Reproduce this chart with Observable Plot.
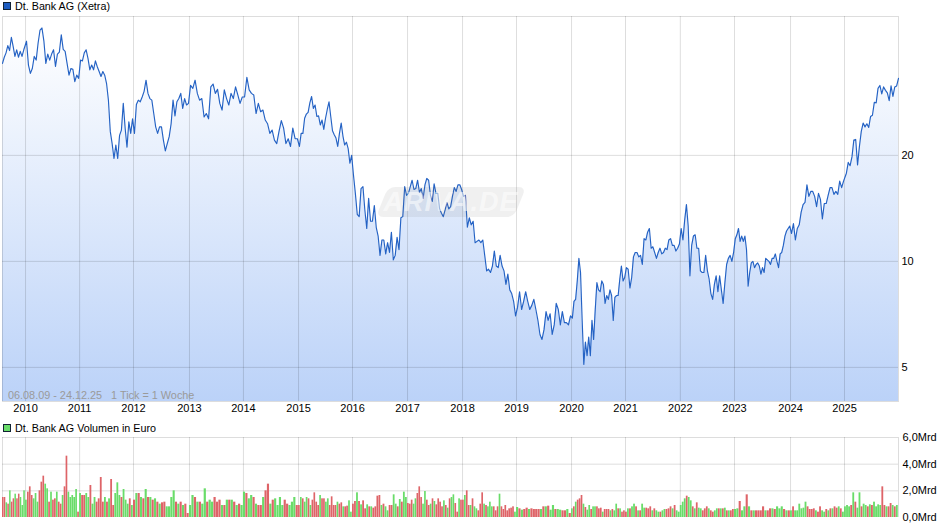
<!DOCTYPE html>
<html lang="de">
<head>
<meta charset="utf-8">
<script src="https://cdn.jsdelivr.net/npm/d3@7"></script>
<script src="https://cdn.jsdelivr.net/npm/@observablehq/plot@0.6"></script>
<style>
  html,body{margin:0;padding:0;background:#fff;}
  #page{position:relative;width:940px;height:526px;overflow:hidden;font:11px "Liberation Sans",Arial,sans-serif;color:#000;}
  .legend{height:14px;line-height:12px;position:relative;padding-left:15px;white-space:pre;font-size:10.75px;box-sizing:border-box;}
  .legend i{position:absolute;left:3px;top:2px;width:6px;height:6px;border:1px solid #123;display:block;}
  .legend.second{padding-top:1px;}
  .legend.second i{top:3px;}
  svg{display:block;}
  #range{position:absolute;left:8px;top:389px;color:#9a9a9a;white-space:pre;font-size:10.85px;}
  #mark{position:absolute;left:382px;top:187px;width:138px;height:30px;background:rgba(110,110,110,.10);border-radius:7px;transform:skewX(-22deg);pointer-events:none;}
  #markText{position:absolute;left:382px;top:187px;width:138px;height:30px;text-align:center;font:italic bold 27px/31px "Liberation Sans",Arial,sans-serif;letter-spacing:1px;color:rgba(255,255,255,.55);pointer-events:none;}
</style>
</head>
<body>
<div id="page"></div>
<script>
const titlePrice = "Dt. Bank AG (Xetra)";
const titleVolume = "Dt. Bank AG Volumen in Euro";
const rangeNote = "06.08.09 - 24.12.25   1 Tick = 1 Woche";
const watermark = "ARIVA.DE";

const totalWeeks = 855;
const yearLabels = ["2010","2011","2012","2013","2014","2015","2016","2017","2018","2019","2020","2021","2022","2023","2024","2025"];
const yearWeeks = [22,73.6,125,178.4,229.9,282.5,334,386.5,439,490.5,543,594.5,646.8,698.5,752,803.5];
const priceTicks = [5,10,20];
const volumeTicks = [0,2,4,6];

const close2009 = [36.5,38,39.1,41,39.7,43.3,40.8,38.2,39.9,38,39.5,38.2,39.9];
const close2010 = [42.2,36.1,34.2,35.3,38.2,37.3,41.7,45.4,46,42.2,36.5,38.8,37.3,38.8,39.9,35.8,38.8,39.3,44,40,39.5,36.5,33.8,35.3,35.1,32.4,33.8,33.1];
const close2011 = [37.3,37.1,39.1,39.9,37.7,35,36.1,35,37.1,35.7,34.6,33.5,34.6,33.8,32,28.7,23.4,21.6,19.6,21.4,19.6,22.8,23.6,28.1,23.9,21.1,24.9,23.1,25.4];
const close2012 = [23.1,27.9,28.7,28.4,29.3,30.4,32.7,30,29,28.7,26.3,24.1,23.1,24.1,24.1,22.1,20.6,21.6,22.6,24.6,28.7,25.9,28.4,29,30,27.2,29,27.8,28.1];
const close2013 = [31.6,31,32.7,30,28.7,29,25.7,26.3,25.4,31.3,31.9,30,30.8,28.1,26.9,30.7,29,27.8,30,29,31.3,29.7,28.1,29.3];
const close2014 = [29.3,33.3,30.7,30,29.7,26.3,28.1,26.6,26.9,25.2,24.6,23.1,23.6,22.1,21.6,23.4,25.1,23.9,21.6,22.3,21.2,23.9,22.3,22.3];
const close2015 = [21.2,23.1,23.1,25.5,26.2,26.5,28.2,29.4,27.2,27.8,25.8,25.9,24.4,25.2,23.7,25.5,27,28.4,25.8,23.5,22.9,22.4,21.2,23.1,24.7,22.7,21.4,21.8,20.9,19,20];
const close2016 = [17.6,15.6,13.6,13.4,16.1,16.3,14,12.4,15.1,13,13,14.4,12.5,11.8,10.4,11.5,11.5,10.5,11.3,10.6,12.1,10.1,10.4,11.7,10.8,13.3,13.4,16.3,15.4];
const close2017 = [15.6,16.3,17,16,16.1,17,15.7,16.1,15.1,16.5,17.2,17,15.4,14.8,16.6,15.6,15.6,14.1,13.7,13.4,14,14.7,14.1,14.3,15.3,16.2,15.8,16.5,16.5,16];
const close2018 = [15.3,15.4,12.5,13.3,12.7,13,11.3,11.4,11.5,11.3,11.5,10.4,9.4,9.5,9.3,9.7,10.7,9.7,9.6,10.4,9.7,9.4,8.6,9.2,8.3,8.1,7.7,7];
const close2019 = [7.4,8.2,7.3,7.7,8.2,7.7,7.3,7.5,7.8,7.3,6.8,6.2,6,6.4,7.2,6.8,7.1,6.2,6.6,7.6,7.3,6.6,7.2,6.7,6.7,6.6,7];
const close2020 = [6.9,7.7,7.8,8.8,10.2,9.3,6.8,5.1,5.9,5.4,6.1,5.4,6.8,6,7.3,8.7,8.3,8.2,8.8,8.6,7.6,8,7.8,8.3,8,6.8,7.9,8,8,8.9,9.7,8.8,9];
const close2021 = [9.6,9.5,8.4,9,10.3,10.6,10.6,10.3,10.4,9.8,11.6,11.5,12.1,12.4,10.9,11,10.6,10.2,10.6,10.9,10.5,10.6,10.9,10.8,11.5,11.6,11.1,11.1,10.7,10.9,11.2];
const close2022 = [12.4,11.5,13.1,14.5,12.6,9.1,11.1,11.8,11.9,10.9,10.9,9.4,9.3,9.3,10.4,9.4,8.9,8.1,7.8,8.6,9.1,8.2,9.1,8.3,7.6,8.7,9.8,10.2,10.4,10,10.6];
const close2023 = [11.6,11.9,12.4,11.4,11.8,11.4,11.8,10.8,8.5,9.3,9.9,10,9.6,9.8,9.9,9.7,9.2,9.6,9.3,10.2,10.1,10,9.8,10.2,10.2,10.5,10,9.6,10.5,10.6,11.1,11.8,12.2,12.4,12.6];
const close2024 = [12,12.8,11.5,12.4,12.7,13.8,14.5,14.7,16.5,15.3,15.8,15.8,15.3,14.3,15.6,15,13.2,14.6,14.6,15.4,16.2,16.2,15.5,15.8,15.5,16.9,16.2,16.9];
const close2025 = [17.8,19.1,18.7,19.8,22.1,22.2,18.8,21.2,23.4,24.7,24.1,24.6,24,25.8,26,28.3,28.2,31,31.6,29.9,31.3,30.6,30.1,28.6,31.5,29.4,31.3,31.5,33.1];

const vol2009 = [1.5,1.5,1.1,1,2,1.15,1.4,1.75,1.4,1.75,1.5,0.9,2];
const vol2010 = [1.3,1.9,2.3,1.65,1.4,1.8,1.15,2,2.65,3.1,2.5,2.15,1.15,1.9,1.3,1.4,1.9,1.15,1,1.65,2.3,4.6,1.9,1.5,1.65,1.5,2.1,0.4];
const vol2011 = [1.8,1.65,1.65,1.8,1.5,2.4,1,1.5,1.15,1.4,3,1.15,1.5,1.15,1.4,2.85,0.9,1.8,2.6,1.65,1.5,2.1,1.3,1,1.4,0.9];
const vol2012 = [1.3,1.8,1.8,1.5,1.4,2.1,1.5,1.5,1.3,1.4,1.15,1,1.1,1.15,0.8,0.8,1.5,2,1.15,1,1.15,0.9,1,0.3];
const vol2013 = [0.9,1.65,1.5,1.15,1.15,1,2.15,1.15,1.3,1.15,1.5,1.15,1.3,0.9,0.9,1.3,1.3,1.3,1.15,0.9,1,0.9];
const vol2014 = [1.9,1.8,1.4,1.65,1.5,1,0.9,0.9,1.5,2,2.5,1,1.3,1.4,0.9,1.5,0.9,1.3,1,0.9,1.15,1.5,0.9];
const vol2015 = [0.9,1.5,1.4,1.15,1.5,1.4,0.9,1.3,1.85,1.15,0.9,1.65,1.4,1.4,1.15,1.4,0.9,1.55,0.9,0.9,1.15,1,1.1,0.8,0.8,0.85,1.25,0.4];
const vol2016 = [1,1.2,1.85,1.2,0.95,1.25,0.65,0.95,0.8,0.8,0.7,0.8,1.6,1.65,0.9,1,0.8,0.5,0.9,0.9,1.7,1,0.8,1.35,1.15,1.9,1.5];
const vol2017 = [1.05,1,1.3,1,1.4,1.8,2.3,1.5,1,1.95,1.3,0.9,1,1.4,1.2,0.95,1.4,1.15,0.8,1.25,0.9,0.7,1.4,1.5,1.7,1.05,0.4,1.4,1.3];
const vol2018 = [1.3,1.65,2,0.9,0.9,1.4,0.8,0.65,0.5,1,1.85,1,0.9,0.8,1.15,0.8,0.8,0.5,0.8,1.75,0.8,0.6,0.9,0.5,0.65,0.7,0.8,0.4];
const vol2019 = [0.75,0.65,0.55,0.6,0.7,0.6,0.65,0.6,0.6,0.6,0.6,0.8,0.8,0.85,0.55,0.9,0.6,0.6,0.55,0.5,0.5,0.6,0.3];
const vol2020 = [0.65,0.8,1.15,1.3,1.4,1.65,1,0.75,0.55,0.9,0.6,0.8,0.8,0.8,0.65,0.7,0.4,0.6,0.6,0.6,0.5,0.6,0.5,1,0.65,0.65,0.4,0.5];
const vol2021 = [0.4,0.65,0.65,0.8,1,0.8,0.5,0.5,1,0.7,0.7,0.65,0.8,0.5,0.65,0.5,0.4,0.4,0.5,0.6,0.6,0.65,0.8,0.65,0.9,0.5,0.4];
const vol2022 = [0.9,1.15,1.4,1.6,1.5,1.25,0.8,0.65,1.1,0.7,0.65,0.5,0.65,0.8,0.65,0.5,0.4,0.5,0.65,0.65,0.65,0.65,0.7,0.5,0.5,0.5,0.6];
const vol2023 = [0.6,0.65,1.2,0.5,0.8,1.7,0.8,0.5,0.5,0.5,0.5,0.5,0.8,0.5,0.5,0.65,0.65,0.6,0.8,0.65,0.8,0.6,0.5,0.5];
const vol2024 = [0.5,0.8,0.5,0.5,1,0.65,0.7,1.15,0.8,0.6,0.6,0.65,0.5,0.4,0.8,0.5,0.4,0.6,0.5,0.65,0.65,0.8,0.7,0.8,0.65,0.4];
const vol2025 = [0.8,0.9,0.8,0.9,1.85,1.15,0.7,1.85,0.8,1,0.9,0.8,0.95,0.9,1.15,0.8,0.95,0.9,2.3,0.9,0.8,0.8,1.05,0.9,0.8,0.9];

// r = week closed lower (red bar), g = week closed higher (green bar)
const volumeDirection = ["rrgrgrrgrrggg","grrrgggrrrggrgrrgrrgrrgggggr","grrggrggrrrrgrgrrgggrgggrg","rgrgrgrgrgrgrrggggrgrgrr","ggrgrggrggrrrgrgrgrgrg","grggrgrrgrrgrggggrrgggr","rgrggrgrrrrgrrggrrrrgrrgrrgg","rrgrgrrgrgrrrrgrggrrggrgrgg","rrrggrrrggrrgrgrrrrgrgrggrrgr","rgrrgrggrrrgrgggrrrgrrrrrrrg","grgrrgrrrrgrgrggrggrrgr","grgrrrgrggrggrrrgrrrgrggrgrr","rgrggrgrggrrrgrggrggrrrgrgg","gggrggrgrggrrrgrrggrgrgrgrr","ggrggrgrgrrrrgrrgrgggrgr","grggggggrrrrgrrggrgrgrrgrg","gggrgrggrggrgrggggrrgrrgrg"];

const closes = [close2009,close2010,close2011,close2012,close2013,close2014,close2015,close2016,close2017,close2018,close2019,close2020,close2021,close2022,close2023,close2024,close2025];
const vols = [vol2009,vol2010,vol2011,vol2012,vol2013,vol2014,vol2015,vol2016,vol2017,vol2018,vol2019,vol2020,vol2021,vol2022,vol2023,vol2024,vol2025];
const bounds = [0,...yearWeeks,totalWeeks];

const priceData = closes.flatMap((vals,i)=>{
  const a=bounds[i],b=bounds[i+1],n=vals.length;
  const off = i===0?0:(i===closes.length-1?1:0.5);
  return vals.map((v,k)=>({week:a+(b-a)*(k+off)/n,price:v}));
});
const volumeData = vols.flatMap((vals,i)=>{
  const a=bounds[i],b=bounds[i+1],n=vals.length;
  return vals.map((v,k)=>({w1:a+(b-a)*k/n,w2:a+(b-a)*(k+1)/n,vol:v,dir:volumeDirection[i][k]}));
});

const labelOf = w => yearLabels[yearWeeks.indexOf(w)];
const gridStyle = {stroke:"#000",strokeOpacity:0.135};
const fontStyle = {fontFamily:"'Liberation Sans',Arial,sans-serif",fontSize:"11px",color:"#000",background:"transparent",overflow:"visible"};

const gradient = () => {
  const defs = d3.create("svg:defs");
  const g = defs.append("linearGradient").attr("id","priceFill").attr("x1",0).attr("x2",0).attr("y1",0).attr("y2",1);
  g.append("stop").attr("offset","0").attr("stop-color","#ffffff");
  g.append("stop").attr("offset","1").attr("stop-color","#bbd2f8");
  return defs.node();
};

const pricePlot = Plot.plot({
  width:940,height:407,marginTop:2,marginBottom:20,marginLeft:2,marginRight:42,
  style:fontStyle,
  x:{domain:[0,totalWeeks],label:null,axis:null},
  y:{type:"log",domain:[4,49.6],label:null,axis:null},
  marks:[
    gradient,
    Plot.areaY(priceData,{x:"week",y1:4,y2:"price",fill:"url(#priceFill)"}),
    Plot.ruleX(yearWeeks,gridStyle),
    Plot.ruleY(priceTicks,gridStyle),
    Plot.frame({stroke:"#000",strokeOpacity:0.135}),
    Plot.lineY(priceData,{x:"week",y:"price",stroke:"#2462c4",strokeWidth:1.15}),
    Plot.axisX({ticks:yearWeeks,tickFormat:labelOf,tickSize:0,tickPadding:3,label:null}),
    Plot.axisY({anchor:"right",ticks:priceTicks,tickFormat:d=>String(d),tickSize:0,tickPadding:3,label:null})
  ]
});

const volumePlot = Plot.plot({
  width:940,height:91,marginTop:2,marginBottom:9,marginLeft:2,marginRight:42,
  style:fontStyle,
  x:{domain:[0,totalWeeks],label:null,axis:null},
  y:{domain:[0,6],label:null,axis:null},
  marks:[
    Plot.ruleX(yearWeeks,gridStyle),
    Plot.ruleY([2,4,6],gridStyle),
    Plot.ruleX([0,totalWeeks],gridStyle),
    Plot.rectY(volumeData,{x1:"w1",x2:"w2",y:"vol",fill:d=>d.dir==="r"?"#de6468":"#69dc69",insetRight:0.25}),
    Plot.axisY({anchor:"right",ticks:volumeTicks,tickFormat:d=>d.toFixed(1).replace(".",",")+"Mrd",tickSize:0,tickPadding:4,label:null})
  ]
});

const page = document.getElementById("page");
const legend = (text,fill,cls) => {
  const d = document.createElement("div"); d.className="legend "+cls; d.textContent=text;
  const i = document.createElement("i"); i.style.background=fill; d.prepend(i); return d;
};
page.append(legend(titlePrice,"#1d5cc0","first"), pricePlot, legend(titleVolume,"#69dc69","second"), volumePlot);
const r = document.createElement("div"); r.id="range"; r.textContent=rangeNote; page.append(r);
const m = document.createElement("div"); m.id="mark"; page.append(m);
const t = document.createElement("div"); t.id="markText"; t.textContent=watermark; page.append(t);
</script>
</body>
</html>
